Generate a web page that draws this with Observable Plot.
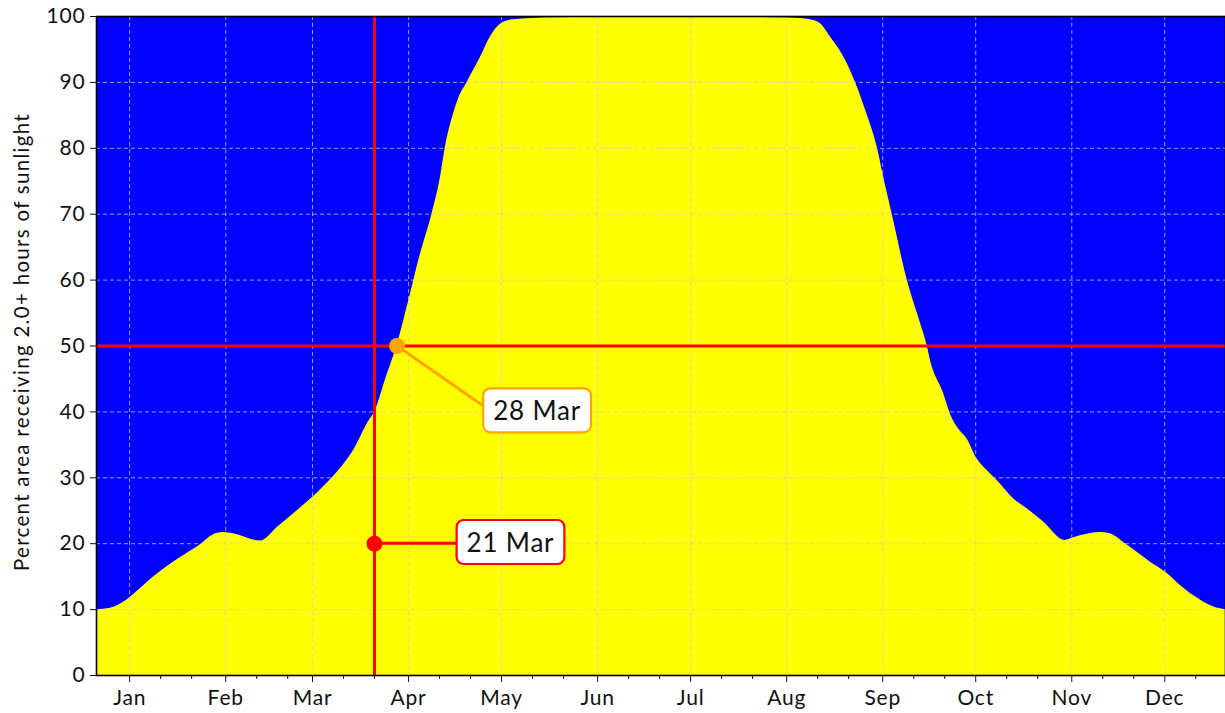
<!DOCTYPE html>
<html><head><meta charset="utf-8">
<script src="https://cdn.jsdelivr.net/npm/d3@7"></script>
<script src="https://cdn.jsdelivr.net/npm/@observablehq/plot@0.6"></script>
<style>
html,body{margin:0;padding:0;background:#fff;}
svg{display:block;}
</style>
</head><body><div id="chart"></div>
<script>
// Days since 1 Jan (fractional) and percent of area with 2.0+ hours of sunlight
const dayOffset = [-10.7, -6.2, -2.0, 3.5, 7.6, 14.1, 21.8, 28.3, 30.2, 33.5, 42.2, 47.7, 54.1, 59.0, 62.5, 68.0, 72.2, 76.7, 79.3, 82.5, 86.3, 90.6, 93.3, 97.6, 100.3, 101.9, 104.5, 106.1, 108.9, 113.2, 116.4, 120.2, 123.9, 135.8, 150, 171, 195, 210, 216.4, 219.6, 222.9, 226.1, 229.9, 234.2, 237.9, 241.2, 243.3, 246.0, 250.9, 255.2, 257.3, 258.4, 262.7, 264.8, 267.5, 270.2, 273.4, 276.7, 279.9, 285.3, 289.6, 294.9, 301.9, 304.6, 313.2, 316.4, 320.7, 325.1, 329.4, 334.2, 338.5, 343.4, 349.8, 353.6];
const percent = [10.0, 10.2, 11.1, 13.2, 14.9, 17.2, 19.5, 21.6, 21.7, 21.5, 20.4, 22.5, 25.0, 27.0, 28.6, 31.4, 34.1, 38.2, 40.2, 44.8, 50.1, 57.9, 63.0, 70.1, 75.6, 80.2, 85.2, 87.5, 90.0, 93.8, 96.9, 99.0, 99.5, 99.8, 99.9, 99.9, 99.9, 99.8, 99.7, 99.5, 98.9, 96.9, 94.3, 90.0, 85.2, 80.2, 75.6, 70.1, 60.0, 53.4, 50.1, 47.8, 42.7, 39.7, 37.4, 35.9, 32.9, 31.1, 29.6, 26.8, 25.3, 23.3, 20.5, 20.9, 21.7, 21.5, 20.2, 18.7, 17.2, 15.7, 13.9, 12.1, 10.4, 10.0];

const monthLabels = ["Jan","Feb","Mar","Apr","May","Jun","Jul","Aug","Sep","Oct","Nov","Dec"];
const minorTickDays = [11, 21];
const yTicks = [0, 10, 20, 30, 40, 50, 60, 70, 80, 90, 100];
const yLabel = "Percent area receiving 2.0+ hours of sunlight";

// Reference lines
const refLineDay = 79;      // 21 Mar
const refLineValue = 50;

// Annotations
const annotDays = [79, 86.3];
const annotValues = [20, 50];
const annotLabels = ["21 Mar", "28 Mar"];
const annotColors = ["#ff0000", "#ffa500"];

const baseUTC = Date.UTC(2021, 0, 1);
const toDate = d => new Date(baseUTC + d * 864e5);

const data = dayOffset.map((d, i) => ({date: toDate(d), value: percent[i]}));
const monthStarts = monthLabels.map((_, m) => new Date(Date.UTC(2021, m, 1)));
const minorTicks = monthLabels.flatMap((_, m) => minorTickDays.map(day => new Date(Date.UTC(2021, m, day))))
  .filter(d => d <= toDate(dayOffset[dayOffset.length - 1]));
const annots = annotDays.map((d, i) => ({date: toDate(d), value: annotValues[i], label: annotLabels[i], color: annotColors[i]}));

const FONT = "Lato, 'DejaVu Sans', sans-serif";
const gridStyle = {stroke: "#cccccc", strokeOpacity: 0.75, strokeWidth: 1, strokeDasharray: "4,3"};

// label offsets (pixels) from annotated point
const labelOffsets = [{dx: 136, dy: 0}, {dx: 140, dy: 66}];

const chart = Plot.plot({
  width: 1225,
  height: 713,
  marginLeft: 96,
  marginTop: 16,
  marginRight: 0,
  marginBottom: 38,
  style: {fontFamily: FONT, color: "#111", background: "white", overflow: "visible", letterSpacing: "0.8px"},
  x: {type: "utc", domain: [toDate(dayOffset[0]), toDate(dayOffset[dayOffset.length - 1])]},
  y: {domain: [0, 100]},
  marks: [
    Plot.frame({fill: "#0000ff"}),
    Plot.areaY(data, {x: "date", y: "value", fill: "#ffff00", curve: "monotone-x"}),
    Plot.gridX(monthStarts, gridStyle),
    Plot.gridY(yTicks, gridStyle),
    Plot.ruleX([toDate(refLineDay)], {stroke: "#ff0000", strokeWidth: 3}),
    Plot.ruleY([refLineValue], {stroke: "#ff0000", strokeWidth: 3}),
    Plot.dot(annots, {x: "date", y: "value", r: 8, fill: "color", stroke: "none"}),
    ...annots.map((a, i) => Plot.text([a], {
      x: "date", y: "value", text: "label",
      dx: labelOffsets[i].dx, dy: labelOffsets[i].dy,
      fontSize: 26, fill: "#111", textAnchor: "middle", lineAnchor: "middle"
    })),
    Plot.frame({stroke: "#000", strokeWidth: 1.6}),
    Plot.axisY(yTicks, {tickSize: 6, tickPadding: 5, fontSize: 21, label: null, tickFormat: d => String(d)}),
    Plot.axisX(monthStarts, {tickSize: 7, tickPadding: 8, fontSize: 21, label: null, tickFormat: d => monthLabels[d.getUTCMonth()]}),
    Plot.axisX(minorTicks, {tickSize: 4, label: null, tickFormat: () => ""}),
    Plot.text([yLabel], {frameAnchor: "left", textAnchor: "middle", lineAnchor: "middle", rotate: -90, dx: -74, dy: -4, fontSize: 20.5, fill: "#111", text: d => d})
  ]
});

document.getElementById("chart").append(chart);

// y label letter spacing
Array.from(chart.querySelectorAll("text")).filter(t => t.textContent === yLabel)
  .forEach(t => t.setAttribute("letter-spacing", "1.3"));

// Boxes and leader lines for annotation labels (positions from Plot's scales)
const sx = chart.scale("x"), sy = chart.scale("y");
const ns = "http://www.w3.org/2000/svg";
const dotGroup = chart.querySelector('g[aria-label="dot"]');
annots.forEach((a, i) => {
  const px = sx.apply(a.date), py = sy.apply(a.value);
  const textEl = Array.from(chart.querySelectorAll("text")).find(t => t.textContent === a.label);
  const bb = textEl.getBBox();
  const padX = 10, padY = 7;
  const rect = document.createElementNS(ns, "rect");
  rect.setAttribute("x", bb.x - padX);
  rect.setAttribute("y", bb.y - padY + 1);
  rect.setAttribute("width", bb.width + 2 * padX);
  rect.setAttribute("height", bb.height + 2 * padY - 2);
  rect.setAttribute("rx", 7);
  rect.setAttribute("fill", "white");
  rect.setAttribute("stroke", a.color);
  rect.setAttribute("stroke-width", 2.2);
  const tr = textEl.getAttribute("transform");
  if (tr) rect.setAttribute("transform", tr);
  textEl.parentNode.insertBefore(rect, textEl);
  // leader line from dot to box left edge
  const cx = px + labelOffsets[i].dx, cy = py + labelOffsets[i].dy;
  const left = cx - bb.width / 2 - padX;
  const line = document.createElementNS(ns, "line");
  line.setAttribute("x1", px); line.setAttribute("y1", py);
  line.setAttribute("x2", left); line.setAttribute("y2", cy - (labelOffsets[i].dy ? 6 : 0));
  line.setAttribute("stroke", a.color);
  line.setAttribute("stroke-width", 3);
  chart.insertBefore(line, dotGroup);
});
</script>
</body></html>
